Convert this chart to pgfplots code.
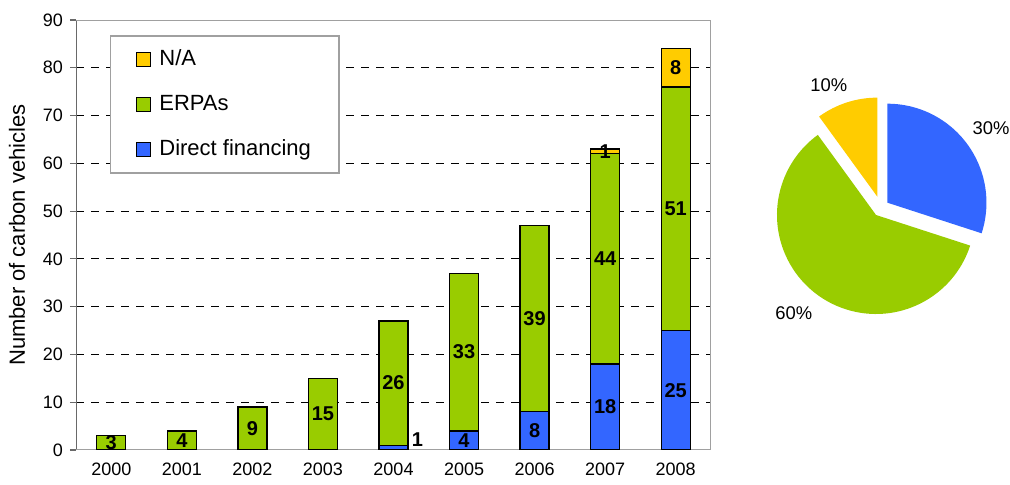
\documentclass[border=0pt]{standalone}
\usepackage{fontspec}
\setmainfont{Liberation Sans}
\usepackage{pgfplots}
\pgfplotsset{compat=1.18}
\usepackage{pgfplotstable}

\definecolor{direct}{RGB}{51,102,255}
\definecolor{erpa}{RGB}{153,204,0}
\definecolor{na}{RGB}{255,204,0}
\definecolor{frame}{RGB}{160,160,160}
\definecolor{leftaxis}{RGB}{105,105,105}

% Carbon vehicles per year, by financing type
\pgfplotstableread{
x year direct erpa na
0 2000 0  3  0
1 2001 0  4  0
2 2002 0  9  0
3 2003 0  15 0
4 2004 1  26 0
5 2005 4  33 0
6 2006 8  39 0
7 2007 18 44 1
8 2008 25 51 8
}\vehicles

% Shares of the total (percent)
\def\pieDirect{30}
\def\pieERPA{60}
\def\pieNA{10}

\begin{document}
\begin{tikzpicture}
\useasboundingbox (-38pt,-17.5pt) rectangle (467pt,225pt);

\pgfplotsset{
  barframe/.style={
    scale only axis, width=317.5pt, height=215pt,
    xmin=-0.5, xmax=8.5, ymin=0, ymax=90,
    at={(0pt,0pt)}, anchor=south west,
  },
}

% stacked bars
\begin{axis}[barframe,
  ybar stacked, bar width=14.5pt,
  xtick={0,...,8},
  xticklabels={2000,2001,2002,2003,2004,2005,2006,2007,2008},
  ytick={0,10,...,90},
  tick label style={font=\fontsize{9}{10}\selectfont},
  /pgf/number format/assume math mode=true,
  xticklabel style={yshift=0pt},
  ylabel={Number of carbon vehicles},
  every axis y label/.style={at={(axis description cs:-0.093,0.5)}, rotate=90,
    anchor=center, font=\fontsize{11}{12}\selectfont},
  axis line style={draw=none},
  ytick pos=left, tick align=outside, major tick length=3pt,
  ytick style={leftaxis, line width=0.6pt},
  xtick style={draw=none},
  ymajorgrids,
  major grid style={black, line width=0.5pt, dash pattern=on 4pt off 3.5pt},
  reverse legend,
  legend cell align=left,
  legend image code/.code={\draw[#1,draw=black,line width=0.4pt] (0pt,-3.5pt) rectangle (7pt,3.5pt);},
  legend style={at={(axis description cs:0.0535,0.964)}, anchor=north west,
    draw=frame, line width=0.6pt, fill=white,
    inner xsep=12.5pt, inner ysep=5pt, row sep=9pt,
    font=\fontsize{11}{12}\selectfont,
    /tikz/every odd column/.append style={column sep=3pt},
    nodes={inner sep=1.5pt, text height=8pt, text depth=2.5pt}},
]
\addplot[fill=direct, draw=black, line width=0.7pt] table[x=x, y=direct]{\vehicles};
\addlegendentry{Direct financing}
\addplot[fill=erpa, draw=black, line width=0.7pt] table[x=x, y=erpa]{\vehicles};
\addlegendentry{ERPAs}
\addplot[fill=na, draw=black, line width=0.7pt] table[x=x, y=na]{\vehicles};
\addlegendentry{N/A}
\draw[frame, line width=0.6pt] (rel axis cs:0,0) -- (rel axis cs:1,0) -- (rel axis cs:1,1) -- (rel axis cs:0,1);
\draw[leftaxis, line width=1pt] (rel axis cs:0,0) -- (rel axis cs:0,1);
\end{axis}

% value labels in the middle of each segment
\begin{axis}[barframe, hide axis,
  point meta=explicit symbolic,
  nodes near coords,
  nodes near coords align={center},
  every node near coord/.append style={font=\bfseries\fontsize{10}{10}\selectfont, inner sep=0pt},
]
\addplot[draw=none, mark=none, restrict expr to domain={\thisrow{direct}}{2:100}]
  table[x=x, y expr=\thisrow{direct}/2, meta=direct]{\vehicles};
\addplot[draw=none, mark=none]
  table[x=x, y expr=\thisrow{direct}+\thisrow{erpa}/2, meta=erpa]{\vehicles};
\addplot[draw=none, mark=none, restrict expr to domain={\thisrow{na}}{0.5:100}]
  table[x=x, y expr=\thisrow{direct}+\thisrow{erpa}+\thisrow{na}/2, meta=na]{\vehicles};
% the thin 2004 segment is labelled beside its bar
\addplot[draw=none, mark=none, every node near coord/.append style={xshift=12pt, yshift=3pt}]
  coordinates {(4,1) [1]};
\end{axis}

% pie of the shares
\pgfmathsetmacro\aB{90-3.6*\pieDirect}
\pgfmathsetmacro\aG{\aB-3.6*\pieERPA}
\pgfmathsetmacro\aN{\aG-3.6*\pieNA}
\pgfmathsetmacro\mB{90-1.8*\pieDirect}
\pgfmathsetmacro\mG{\aB-1.8*\pieERPA}
\pgfmathsetmacro\mN{\aG-1.8*\pieNA}
\begin{axis}[hide axis, clip=false, scale only axis, width=100pt, height=100pt,
  xmin=-1, xmax=1, ymin=-1, ymax=1,
  at={(400pt,117.5pt)}, anchor=center]
\fill[direct] (axis cs:0,0) ++(47:8.4pt) -- ++(90:49.5pt)
  arc[start angle=90, end angle=\aB, radius=49.5pt] -- cycle;
\fill[erpa] (axis cs:0,0) -- ++(\aB:49.5pt)
  arc[start angle=\aB, end angle=\aG, radius=49.5pt] -- cycle;
\fill[na] (axis cs:0,0) ++(86:9.2pt) -- ++(\aG:49.5pt)
  arc[start angle=\aG, end angle=\aN, radius=49.5pt] -- cycle;
\path[font=\fontsize{9.2}{10}\selectfont]
  (axis cs:0,0) ++(\mB+1:72pt) node {\pieDirect\%}
  (axis cs:0,0) ++(\mG-4:64pt) node {\pieERPA\%}
  (axis cs:0,0) ++(\mN+2:69pt) node {\pieNA\%};
\end{axis}
\end{tikzpicture}
\end{document}
